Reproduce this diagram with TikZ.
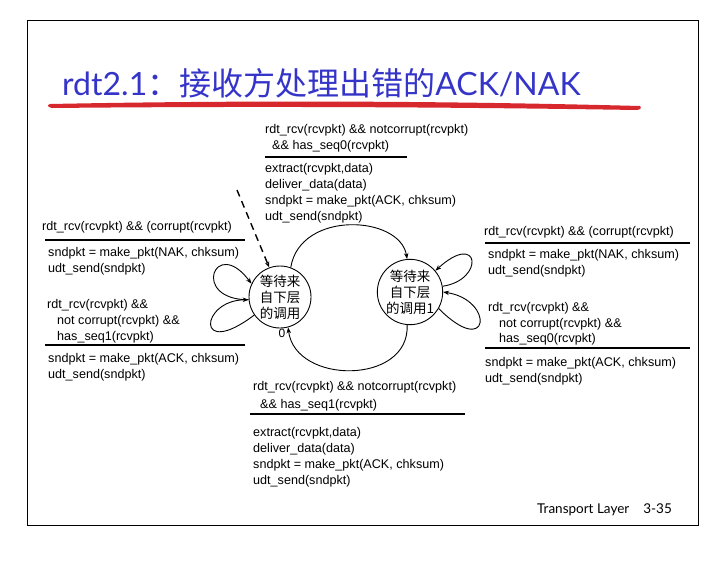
\documentclass[tikz,border=0pt]{standalone}
\usepackage{fontspec}
\setmainfont{Liberation Sans}
\newfontfamily\cjk{Noto Sans CJK SC}
\newfontfamily\gill{Lato}
\usetikzlibrary{arrows.meta}
\definecolor{ttl}{RGB}{52,52,200}
\definecolor{ul}{RGB}{215,40,45}
\begin{document}
\begin{tikzpicture}[x=1pt,y=-1pt,
  lbl/.style={anchor=base west,inner sep=0,font=\fontsize{12.6}{14}\selectfont},
  st/.style={circle,draw,line width=0.9pt,minimum size=62pt,inner sep=0,align=center,font=\cjk\fontsize{13.5}{16}\selectfont},
  arr/.style={line width=0.9pt,-{Stealth[length=6pt,width=4.5pt]}},
  rl/.style={line width=1.6pt}]
\useasboundingbox (0,0) rectangle (726,566);
\draw[line width=0.8pt] (27,20) rectangle (698,525);
\node[anchor=base west,inner sep=0,text=ttl,font=\fontsize{32}{34}\selectfont] (title) at (62,95) {{\gill rdt2.1}{\cjk：接收方处理出错的}{\gill ACK/NAK}};
\fill[ul] (50,104) .. controls (250,100) and (450,101) .. (640,106) .. controls (642,108) and (640,110) .. (636,110) .. controls (450,107) and (250,106) .. (52,108) .. controls (47,107) and (47,105) .. (50,104);
\node[st] (s0) at (280,297) {等待来\\自下层\\的调用};
\node[inner sep=0,font=\fontsize{12}{12}\selectfont] (z) at (282,333) {0};
\node[st] (s1) at (410,292) {等待来\\自下层\\的调用1};
% top
\node[lbl] (t1) at (265,133) {rdt\_rcv(rcvpkt) \&\& notcorrupt(rcvpkt)};
\node[lbl] (t2) at (272,149) {\&\& has\_seq0(rcvpkt)};
\draw[rl] (265,157) -- (407,157);
\node[lbl] (t3) at (265,172) {extract(rcvpkt,data)};
\node[lbl] (t4) at (265,188) {deliver\_data(data)};
\node[lbl] (t5) at (265,204) {sndpkt = make\_pkt(ACK, chksum)};
\node[lbl] (t6) at (265,220) {udt\_send(sndpkt)};
% left
\node[lbl] (l1) at (42,230) {rdt\_rcv(rcvpkt) \&\& (corrupt(rcvpkt)};
\draw[rl] (45,240) -- (245,240);
\node[lbl] (l2) at (48,256) {sndpkt = make\_pkt(NAK, chksum)};
\node[lbl] (l3) at (48,272) {udt\_send(sndpkt)};
\node[lbl] (l4) at (47,308) {rdt\_rcv(rcvpkt) \&\&};
\node[lbl] (l5) at (57,324) {not corrupt(rcvpkt) \&\&};
\node[lbl] (l6) at (57,340) {has\_seq1(rcvpkt)};
\draw[rl] (45,345) -- (245,345);
\node[lbl] (l7) at (48,362) {sndpkt = make\_pkt(ACK, chksum)};
\node[lbl] (l8) at (48,378) {udt\_send(sndpkt)};
% right
\node[lbl] (r1) at (484,235) {rdt\_rcv(rcvpkt) \&\& (corrupt(rcvpkt)};
\draw[rl] (485,243) -- (690,243);
\node[lbl] (r2) at (488,258) {sndpkt = make\_pkt(NAK, chksum)};
\node[lbl] (r3) at (488,274) {udt\_send(sndpkt)};
\node[lbl] (r4) at (488,311) {rdt\_rcv(rcvpkt) \&\&};
\node[lbl] (r5) at (499,327) {not corrupt(rcvpkt) \&\&};
\node[lbl] (r6) at (499,342) {has\_seq0(rcvpkt)};
\draw[rl] (485,348) -- (690,348);
\node[lbl] (r7) at (485,366) {sndpkt = make\_pkt(ACK, chksum)};
\node[lbl] (r8) at (485,382) {udt\_send(sndpkt)};
% bottom
\node[lbl] (b1) at (253,390) {rdt\_rcv(rcvpkt) \&\& notcorrupt(rcvpkt)};
\node[lbl] (b2) at (260,408) {\&\& has\_seq1(rcvpkt)};
\draw[rl] (250,414) -- (465,414);
\node[lbl] (b3) at (253,436) {extract(rcvpkt,data)};
\node[lbl] (b4) at (253,452) {deliver\_data(data)};
\node[lbl] (b5) at (253,468) {sndpkt = make\_pkt(ACK, chksum)};
\node[lbl] (b6) at (253,484) {udt\_send(sndpkt)};
\node[anchor=base west,inner sep=0,font=\gill\fontsize{13.5}{14}\selectfont] (ft) at (537,513) {Transport Layer\hspace{14pt}3-35};
% transitions
\coordinate (d0) at (237,190);
\draw[arr,dashed,line width=1.4pt,dash pattern=on 7pt off 5pt] (d0) -- (s0.110);
\draw[arr] (s0.70) .. controls (300,210) and (400,215) .. (s1.95);
\draw[arr] (s1.265) .. controls (410,385) and (295,385) .. (s0.285);
\draw[arr] (s0.185) .. controls (190,300) and (215,235) .. (s0.155);
\draw[arr] (s0.215) .. controls (195,360) and (200,300) .. (s0.185);
\draw[arr] (s1.10) .. controls (485,280) and (480,230) .. (s1.40);
\draw[arr] (s1.330) .. controls (490,360) and (495,300) .. (s1.0);
\end{tikzpicture}
\end{document}
